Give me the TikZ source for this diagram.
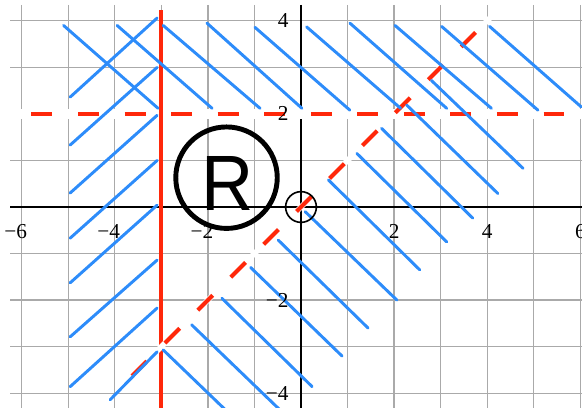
\documentclass[tikz,border=0pt]{standalone}
\usepackage{fontspec}
\setmainfont{Liberation Serif}
\newfontfamily\rfont{Liberation Sans}
\definecolor{hatchblue}{RGB}{45,140,250}
\definecolor{markred}{RGB}{255,40,10}
\definecolor{gridgrey}{RGB}{170,170,170}
\tikzset{
  gridline/.style={draw=gridgrey, line width=0.8pt},
  axisline/.style={draw=black, line width=1.3pt},
  hatch/.style={draw=hatchblue, line width=1.8pt, line cap=round},
  bound/.style={draw=markred, line width=2.4pt},
  dashbound/.style={draw=markred, line width=2.5pt, dash pattern=on 0.45cm off 0.55cm},
  underlay/.style={draw=white},
  ticklabel/.style={inner sep=0pt, font=\fontsize{13}{14}\selectfont},
}
\begin{document}
\begin{tikzpicture}[x=1cm,y=1cm]
\useasboundingbox (-6.466,-4.296) rectangle (6.036,4.447);
\clip (-6.466,-4.296) rectangle (6.036,4.447);
% grid
\foreach \x in {-6,...,6} \draw[gridline] (\x,4.34) -- (\x,-4.4);
\foreach \y in {-4,...,4} \draw[gridline] (-6.25,\y) -- (6.1,\y);
% axes
\draw[axisline] (-6.25,0) -- (6.1,0);
\draw[axisline] (0,4.34) -- (0,-4.4);
% boundary y = 2
\draw[underlay, line width=0.22cm] (-6.25,2) -- (6.1,2);
\draw[dashbound] (-5.79,2) -- (5.7,2);
% boundary x = -3
\draw[bound] (-3,4.23) -- (-3,-4.4);
% boundary y = x
\draw[underlay, line width=0.12cm] (-3.75,-3.75) -- (4.08,4.08);
\draw[dashbound] (-3.63,-3.63) -- (3.75,3.75);
% hatching: top band
\foreach \a/\b/\c/\d in {-5.1/3.9/-3.07/2.12, -3.95/3.9/-1.91/2.12, -2.96/3.9/-0.88/2.12,
  -2.02/3.95/0.02/2.12, -0.99/3.86/1.05/2.08, 0.12/3.87/2.14/2.12, 1.05/3.95/3.13/2.12,
  2.02/3.9/4.09/2.12, 3.02/3.88/5.09/2.08, 4.05/3.88/6.02/2.15}
  \draw[hatch] (\a,\b) -- (\c,\d);
% hatching: left strip
\foreach \a/\b/\c/\d in {-4.96/2.36/-3.09/4.06, -4.96/1.33/-3.09/3.0, -4.96/0.3/-3.09/1.97,
  -4.96/-0.67/-3.09/1.0, -4.96/-1.63/-3.09/0.04, -4.96/-2.79/-3.09/-1.14,
  -4.96/-3.86/-3.09/-2.17, -4.1/-4.14/-3.09/-3.11}
  \draw[hatch] (\a,\b) -- (\c,\d);
% hatching: lower wedge
\foreach \a/\b/\c/\d in {2.8/2.72/4.77/0.83, 2.27/2.19/4.23/0.29, 1.73/1.69/3.69/-0.24,
  1.2/1.15/3.13/-0.75, 0.59/0.58/2.55/-1.35, 0.09/-0.1/2.06/-2.0, -0.49/-0.71/1.44/-2.6,
  -1.08/-1.3/0.88/-3.2, -1.7/-1.96/0.24/-3.86, -2.35/-2.53/-0.43/-4.38, -2.96/-3.07/-1.6/-4.38}
  \draw[hatch] (\a,\b) -- (\c,\d);
% tick labels
\node[ticklabel, anchor=east] (ly4) at (-0.26,4) {4};
\node[ticklabel, anchor=east] (ly2) at (-0.26,2) {2};
\node[ticklabel, anchor=east] (lym2) at (-0.26,-2) {−2};
\node[ticklabel, anchor=east] (lym4) at (-0.26,-4) {−4};
\node[ticklabel] (lxm6) at (-6,-0.53) {\llap{−}6};
\node[ticklabel] (lxm4) at (-4,-0.53) {\llap{−}4};
\node[ticklabel] (lxm2) at (-2,-0.53) {\llap{−}2};
\node[ticklabel] (lx2) at (2,-0.53) {2};
\node[ticklabel] (lx4) at (4,-0.53) {4};
\node[ticklabel] (lx6) at (6,-0.53) {6};
% origin marker
\node[draw, circle, line width=1pt, minimum size=0.66cm, inner sep=0pt] (origin) at (0,0) {};
% region label
\node[draw, circle, line width=3pt, minimum size=2.18cm, inner sep=0pt] (rring) at (-1.6,0.63) {};
\node[inner sep=0pt, font=\rfont\fontsize{48}{48}\selectfont] (rlabel) at (-1.58,0.5) {\scalebox{0.92}[1]{R}};
\end{tikzpicture}
\end{document}
